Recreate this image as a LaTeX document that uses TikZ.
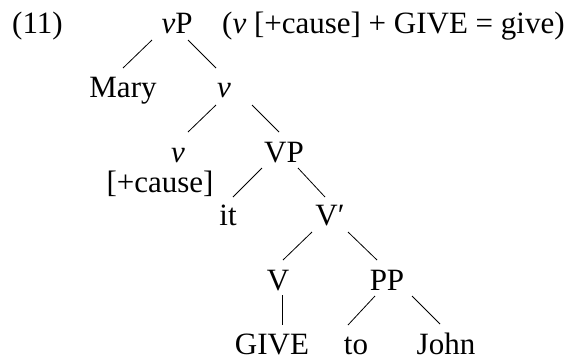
\documentclass[tikz,border=0pt]{standalone}
\usepackage{fontspec}
\setmainfont{Liberation Serif}
\begin{document}
\begin{tikzpicture}[x=1pt,y=-1pt,
  lbl/.style={anchor=base,inner sep=0pt,font=\fontsize{31}{36}\selectfont},
  branch/.style={line width=0.8pt}]
\useasboundingbox (0,0) rectangle (579,360);
% example number and gloss
\node[lbl,anchor=base west] (num) at (12,33) {(11)};
\node[lbl,anchor=base west] (gloss) at (222,33) {(\textit{v} [+cause] + GIVE = give)};
% tree nodes
\node[lbl] (vP) at (177,33) {\textit{v}P};
\node[lbl] (Mary) at (123,97) {Mary};
\node[lbl] (v1) at (224,97) {\textit{v}};
\node[lbl] (v2) at (178,162) {\textit{v}};
\node[lbl] (cause) at (160,192) {[+cause]};
\node[lbl] (VP) at (284,162) {VP};
\node[lbl] (it) at (228,225) {it};
\node[lbl] (Vbar) at (330,225) {V′};
\node[lbl] (V) at (278,290) {V};
\node[lbl] (PP) at (387,290) {PP};
\node[lbl] (GIVE) at (272,354) {GIVE};
\node[lbl] (to) at (356,354) {to};
\node[lbl] (John) at (446,354) {John};
% branches
\draw[branch] ([shift={(-25,7)}]vP.base) -- ([shift={(0,-29)}]Mary.base);
\draw[branch] ([shift={(11,7)}]vP.base) -- ([shift={(-8,-29)}]v1.base);
\draw[branch] ([shift={(-8,8)}]v1.base) -- ([shift={(10,-30)}]v2.base);
\draw[branch] ([shift={(28,8)}]v1.base) -- ([shift={(-5,-30)}]VP.base);
\draw[branch] ([shift={(-22,6)}]VP.base) -- ([shift={(5,-28)}]it.base);
\draw[branch] ([shift={(14,6)}]VP.base) -- ([shift={(-5,-28)}]Vbar.base);
\draw[branch] ([shift={(-18,7)}]Vbar.base) -- ([shift={(5,-30)}]V.base);
\draw[branch] ([shift={(18,7)}]Vbar.base) -- ([shift={(-10,-30)}]PP.base);
\draw[branch] ([shift={(4,5)}]V.base) -- ([shift={(10,-29)}]GIVE.base);
\draw[branch] ([shift={(-12,6)}]PP.base) -- ([shift={(-8,-29)}]to.base);
\draw[branch] ([shift={(25,6)}]PP.base) -- ([shift={(-6,-30)}]John.base);
\end{tikzpicture}
\end{document}
